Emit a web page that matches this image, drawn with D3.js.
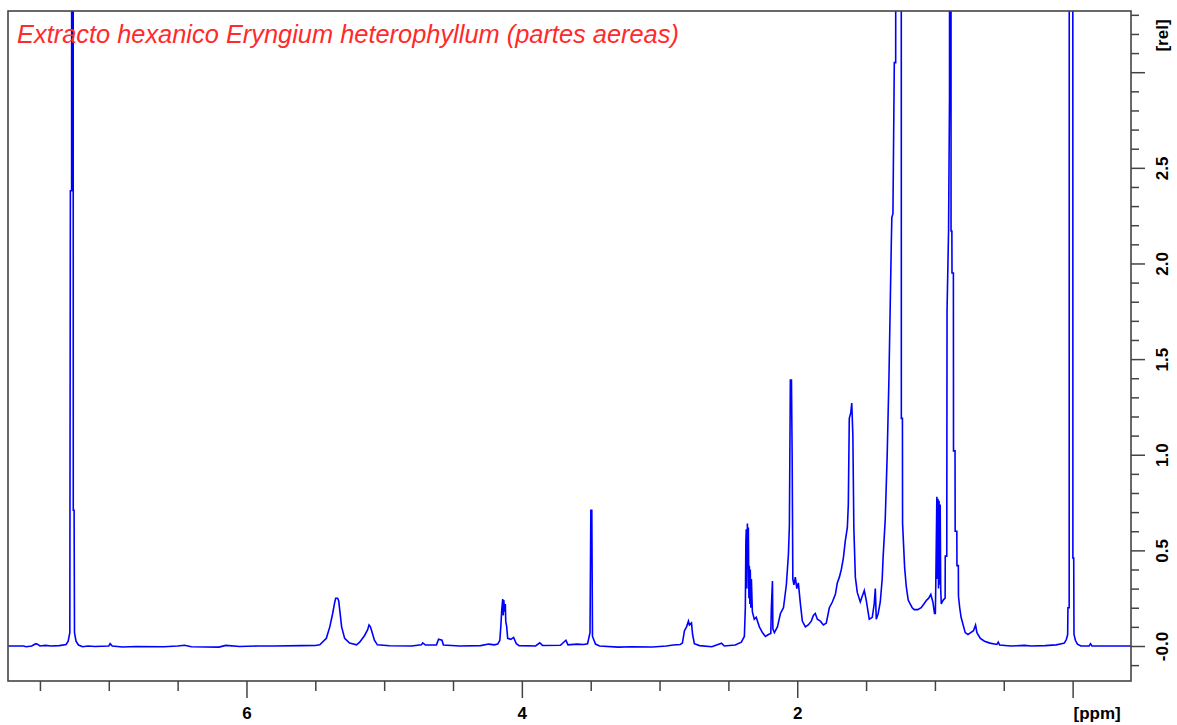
<!DOCTYPE html>
<meta charset="utf-8">
<head>
<script src="https://d3js.org/d3.v7.min.js"></script>
<style>
  body { margin: 0; background: #fff; font-family: Arial, "Liberation Sans", sans-serif; }
  .tick line { stroke: #444; stroke-width: 1.5; }
</style>
</head>
<body>
<svg></svg>
<script>
// spectrum trace (ppm, relative intensity)
var ppm = [
  7.73, 7.62, 7.60, 7.56, 7.53, 7.515, 7.50, 7.46, 7.42, 7.36, 7.31, 7.295, 7.283, 7.279, 7.270, 7.268, 7.260, 7.258, 7.252, 7.249,
  7.238, 7.22, 7.19, 7.15, 7.10, 7.00, 6.99, 6.975, 6.90, 6.80, 6.60, 6.50, 6.45, 6.40, 6.20, 6.15, 6.05, 5.92, 5.80, 5.60,
  5.50, 5.468, 5.42, 5.395, 5.374, 5.36, 5.352, 5.338, 5.33, 5.323, 5.309, 5.287, 5.251, 5.20, 5.178, 5.142, 5.12, 5.11, 5.10, 5.093,
  5.071, 5.049, 4.96, 4.80, 4.73, 4.72, 4.70, 4.62, 4.605, 4.58, 4.57, 4.45, 4.30, 4.24, 4.20, 4.175, 4.16, 4.153, 4.146, 4.139,
  4.135, 4.131, 4.126, 4.12, 4.117, 4.11, 4.103, 4.08, 4.06, 4.04, 4.02, 3.90, 3.87, 3.85, 3.72, 3.68, 3.665, 3.60, 3.55, 3.523,
  3.505, 3.499, 3.492, 3.487, 3.465, 3.436, 3.30, 3.20, 3.05, 2.95, 2.90, 2.85, 2.834, 2.819, 2.804, 2.79, 2.783, 2.768, 2.76, 2.747,
  2.71, 2.62, 2.55, 2.53, 2.45, 2.406, 2.384, 2.377, 2.373, 2.37, 2.366, 2.362, 2.359, 2.355, 2.351, 2.348, 2.344, 2.341, 2.337, 2.333,
  2.326, 2.312, 2.298, 2.275, 2.253, 2.231, 2.209, 2.192, 2.188, 2.18, 2.177, 2.166, 2.144, 2.122, 2.10, 2.079, 2.064, 2.057, 2.05, 2.042,
  2.037, 2.032, 2.024, 2.014, 2.003, 1.992, 1.977, 1.963, 1.941, 1.92, 1.898, 1.883, 1.869, 1.854, 1.832, 1.81, 1.789, 1.767, 1.745, 1.723,
  1.709, 1.694, 1.68, 1.665, 1.651, 1.636, 1.629, 1.622, 1.611, 1.604, 1.596, 1.589, 1.578, 1.564, 1.542, 1.528, 1.513, 1.499, 1.477, 1.455,
  1.441, 1.433, 1.426, 1.412, 1.397, 1.383, 1.376, 1.361, 1.347, 1.334, 1.324, 1.317, 1.313, 1.305, 1.295, 1.285, 1.28, 1.255, 1.246, 1.244,
  1.236, 1.235, 1.22, 1.208, 1.194, 1.18, 1.165, 1.15, 1.125, 1.10, 1.08, 1.06, 1.045, 1.03, 1.015, 1.003, 0.997, 0.994, 0.986, 0.982,
  0.978, 0.974, 0.970, 0.966, 0.962, 0.958, 0.954, 0.94, 0.926, 0.925, 0.914, 0.912, 0.901, 0.894, 0.889, 0.884, 0.883, 0.877, 0.876, 0.866,
  0.865, 0.854, 0.853, 0.841, 0.84, 0.83, 0.829, 0.82, 0.81, 0.795, 0.78, 0.76, 0.74, 0.72, 0.705, 0.695, 0.67, 0.64, 0.60, 0.55,
  0.54, 0.53, 0.45, 0.35, 0.30, 0.20, 0.12, 0.08, 0.06, 0.045, 0.036, 0.034, 0.025, 0.023, 0.0, -0.002, -0.008, -0.01, -0.02, -0.035,
  -0.06, -0.12, -0.13, -0.14, -0.424
];
var intensity = [
  0.0, 0.0, -0.004, 0.0, 0.012, 0.008, 0.0, 0.003, 0.0, 0.002, 0.008, 0.025, 0.07, 2.38, 2.38, 12, 12, 0.71, 0.71, 0.07,
  0.025, 0.005, -0.004, 0.0, -0.003, 0.0, 0.012, 0.0, -0.005, -0.003, -0.004, 0.0, 0.004, -0.004, -0.006, 0.003, -0.003, 0.0, 0.0, 0.002,
  0.003, 0.006, 0.04, 0.1, 0.17, 0.225, 0.25, 0.25, 0.235, 0.19, 0.1, 0.04, 0.015, 0.006, 0.02, 0.055, 0.085, 0.11, 0.1, 0.085,
  0.03, 0.006, 0.001, 0.0, 0.006, 0.016, 0.005, 0.006, 0.035, 0.03, 0.005, 0.0, 0.002, 0.01, 0.006, 0.01, 0.03, 0.1, 0.19, 0.245,
  0.16, 0.24, 0.18, 0.22, 0.13, 0.1, 0.04, 0.035, 0.045, 0.012, 0.002, 0.0, 0.017, 0.003, 0.004, 0.03, 0.006, 0.01, 0.008, 0.012,
  0.07, 0.71, 0.71, 0.05, 0.01, 0.0, -0.006, -0.004, -0.005, 0.0, 0.005, 0.008, 0.015, 0.08, 0.1, 0.13, 0.11, 0.12, 0.06, 0.012,
  0.002, -0.004, 0.015, 0.0, 0.005, 0.02, 0.05, 0.2, 0.55, 0.61, 0.3, 0.64, 0.4, 0.62, 0.25, 0.42, 0.22, 0.4, 0.2, 0.35,
  0.18, 0.14, 0.15, 0.1, 0.07, 0.05, 0.06, 0.065, 0.2, 0.34, 0.09, 0.07, 0.1, 0.17, 0.2, 0.32, 0.48, 0.63, 1.39, 1.39,
  1.0, 0.35, 0.32, 0.36, 0.3, 0.33, 0.22, 0.13, 0.1, 0.11, 0.13, 0.16, 0.17, 0.14, 0.13, 0.11, 0.12, 0.2, 0.23, 0.27,
  0.33, 0.36, 0.4, 0.46, 0.55, 0.62, 0.74, 1.19, 1.22, 1.27, 1.1, 0.62, 0.36, 0.28, 0.23, 0.26, 0.29, 0.24, 0.14, 0.15,
  0.22, 0.3, 0.14, 0.17, 0.23, 0.35, 0.47, 0.66, 0.99, 1.40, 1.81, 2.1, 2.24, 2.26, 3.05, 3.05, 12, 12, 12, 1.19,
  1.19, 0.64, 0.41, 0.31, 0.24, 0.22, 0.2, 0.19, 0.19, 0.2, 0.22, 0.24, 0.25, 0.27, 0.23, 0.17, 0.17, 0.31, 0.78, 0.35,
  0.77, 0.3, 0.76, 0.32, 0.74, 0.3, 0.22, 0.24, 0.25, 0.47, 0.47, 1.75, 2.17, 2.875, 12, 12, 2.17, 2.17, 1.95, 1.95,
  1.02, 1.02, 0.6, 0.6, 0.42, 0.42, 0.26, 0.2, 0.15, 0.11, 0.07, 0.06, 0.07, 0.08, 0.11, 0.07, 0.04, 0.025, 0.015, 0.008,
  0.02, 0.005, 0.0, 0.003, 0.0, 0.002, 0.006, 0.012, 0.015, 0.035, 0.06, 0.2, 0.2, 12, 12, 0.46, 0.46, 0.06, 0.03, 0.01,
  0.0, 0.0, 0.012, 0.0, 0.0
];

var xMajorTicks = [6, 4, 2, 0];
var xMinorTicks = [7.5, 7, 6.5, 5.5, 5, 4.5, 3.5, 3, 2.5, 1.5, 1, 0.5];
var xLabels = ["6", "4", "2", "[ppm]"];
var yMajorTicks = [0, 0.5, 1.0, 1.5, 2.0, 2.5, 3.0];
var yLabels = ["-0.0", "0.5", "1.0", "1.5", "2.0", "2.5", "[rel]"];
var title = "Extracto hexanico Eryngium heterophyllum (partes aereas)";

var width = 1177, height = 725;
var box = { left: 8, right: 1131, top: 11, bottom: 681 };

var svg = d3.select('svg')
    .attr('width', width)
    .attr('height', height);

var x = d3.scaleLinear().domain([7.732, -0.424]).range([box.left, box.right]);
var y = d3.scaleLinear().domain([-0.183, 3.32]).range([box.bottom, box.top]);

var data = ppm.map(function (p, i) { return [p, intensity[i]]; });

svg.append('clipPath').attr('id', 'plotclip')
    .append('rect')
    .attr('x', box.left).attr('y', box.top)
    .attr('width', box.right - box.left).attr('height', box.bottom - box.top);

var line = d3.line()
    .x(function (d) { return x(d[0]); })
    .y(function (d) { return y(d[1]); });

svg.append('path')
    .datum(data)
    .attr('clip-path', 'url(#plotclip)')
    .attr('fill', 'none')
    .attr('stroke', '#0000ff')
    .attr('stroke-width', 1.6)
    .attr('d', line);

// x axis ticks
var xMinor = svg.append('g')
    .attr('transform', 'translate(0,' + box.bottom + ')')
    .call(d3.axisBottom(x).tickValues(xMinorTicks).tickSize(10).tickFormat(''));
xMinor.select('.domain').remove();

var xMajor = svg.append('g')
    .attr('transform', 'translate(0,' + box.bottom + ')')
    .call(d3.axisBottom(x).tickValues(xMajorTicks).tickSize(17)
        .tickFormat(function (d, i) { return xLabels[i]; }));
xMajor.select('.domain').remove();
xMajor.selectAll('text')
    .attr('y', 26)
    .attr('dy', '0.71em')
    .style('font-family', 'Arial, "Liberation Sans", sans-serif')
    .style('font-size', '17px')
    .style('font-weight', 'bold')
    .attr('fill', '#000');
xMajor.selectAll('text').filter(function (d) { return d === 0; })
    .attr('x', 24);

// y axis ticks on the right
var yMinorVals = d3.range(-1, 34).map(function (i) { return i / 10; })
    .filter(function (v) { return Math.round(v * 10) % 5 !== 0; });
var yMinor = svg.append('g')
    .attr('transform', 'translate(' + box.right + ',0)')
    .call(d3.axisRight(y).tickValues(yMinorVals).tickSize(8).tickFormat(''));
yMinor.select('.domain').remove();

var yMajor = svg.append('g')
    .attr('transform', 'translate(' + box.right + ',0)')
    .call(d3.axisRight(y).tickValues(yMajorTicks).tickSize(14)
        .tickFormat(function (d, i) { return yLabels[i]; }));
yMajor.select('.domain').remove();
yMajor.selectAll('text')
    .attr('x', 0)
    .attr('y', 31)
    .attr('dy', '0.35em')
    .attr('transform', 'rotate(-90)')
    .attr('text-anchor', 'middle')
    .style('font-family', 'Arial, "Liberation Sans", sans-serif')
    .style('font-size', '17px')
    .style('font-weight', 'bold')
    .attr('fill', '#000');
// "[rel]" sits near the top instead of a 3.0 label
yMajor.selectAll('text').filter(function (d) { return d === 3.0; })
    .attr('x', y(3.0) - 35);

// frame
svg.append('rect')
    .attr('x', box.left).attr('y', box.top)
    .attr('width', box.right - box.left).attr('height', box.bottom - box.top)
    .attr('fill', 'none')
    .attr('stroke', '#444')
    .attr('stroke-width', 1.6);

svg.append('text')
    .attr('x', 17)
    .attr('y', 43)
    .attr('fill', '#ff2a2a')
    .style('font-family', 'Arial, "Liberation Sans", sans-serif')
    .style('font-style', 'italic')
    .style('font-size', '25.4px')
    .text(title);
</script>
</body>
</html>
